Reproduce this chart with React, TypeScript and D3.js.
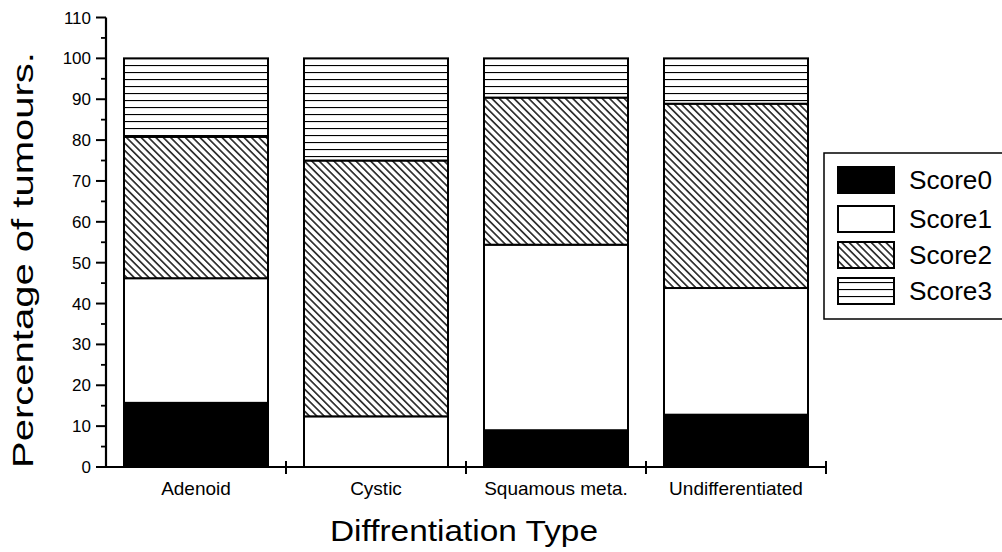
import React from "react";
import * as d3 from "d3";

const categories = ["Adenoid", "Cystic", "Squamous meta.", "Undifferentiated"];
const seriesNames = ["Score0", "Score1", "Score2", "Score3"];
const score0 = [15.7, 0, 9.0, 12.8];
const score1 = [30.5, 12.4, 45.4, 31.0];
const score2 = [34.6, 62.6, 36.0, 45.1];
const score3 = [19.2, 25.0, 9.6, 11.1];
const yTicks = [0, 10, 20, 30, 40, 50, 60, 70, 80, 90, 100, 110];
const yMinorTicks = [5, 15, 25, 35, 45, 55, 65, 75, 85, 95, 105];

const FONT = "Liberation Sans, Arial, Helvetica, sans-serif";

export default function App() {
  const W = 1002, H = 552;
  const x = d3.scaleBand<string>().domain(categories).range([106, 826]).paddingInner(0.2).paddingOuter(0.1);
  const y = d3.scaleLinear().domain([0, 110]).range([467, 17.5]);

  const table = categories.map((c, i) => ({
    cat: c,
    Score0: score0[i],
    Score1: score1[i],
    Score2: score2[i],
    Score3: score3[i],
  }));
  const stacked = d3.stack<any>().keys(seriesNames)(table);
  const fills: Record<string, string> = {
    Score0: "#000",
    Score1: "#fff",
    Score2: "url(#diag)",
    Score3: "url(#horiz)",
  };
  const boundaries = categories.slice(1).map((c) => x(c)! - (x.step() * x.paddingInner()) / 2).concat([826]);

  return (
    <svg width={W} height={H} style={{ position: "absolute", left: 0, top: 0, background: "#fff" }}>
      <defs>
        <pattern id="diag" patternUnits="userSpaceOnUse" width={5.2} height={5.2} patternTransform="rotate(45)">
          <rect width={5.2} height={5.2} fill="#fff" />
          <line x1={-1} y1={2.6} x2={7} y2={2.6} stroke="#000" strokeWidth={1.4} />
        </pattern>
        <pattern id="horiz" patternUnits="userSpaceOnUse" width={10} height={7} y={Math.round(y(100))}>
          <rect width={10} height={7} fill="#fff" />
          <line x1={-1} y1={0.5} x2={11} y2={0.5} stroke="#000" strokeWidth={1.2} />
        </pattern>
      </defs>
      <rect width={W} height={H} fill="#fff" />
      {stacked.map((s) =>
        s.map((d, i) => {
          const h = y(d[0]) - y(d[1]);
          if (h <= 0) return null;
          return (
            <rect
              key={s.key + i}
              x={x(categories[i])}
              y={y(d[1])}
              width={x.bandwidth()}
              height={h}
              fill={fills[s.key]}
              stroke="#000"
              strokeWidth={2}
            />
          );
        })
      )}
      {/* Y axis */}
      <line x1={106} x2={106} y1={y(0)} y2={y(110)} stroke="#000" strokeWidth={2.2} />
      {yTicks.map((t) => (
        <g key={t}>
          <line x1={96} x2={106} y1={y(t)} y2={y(t)} stroke="#000" strokeWidth={2} />
          <text x={91} y={y(t) + 6} textAnchor="end" fontFamily={FONT} fontSize={17} fill="#000">
            {t}
          </text>
        </g>
      ))}
      {yMinorTicks.map((t) => (
        <line key={t} x1={101} x2={106} y1={y(t)} y2={y(t)} stroke="#000" strokeWidth={1.8} />
      ))}
      {/* X axis */}
      <line x1={106} x2={826} y1={y(0)} y2={y(0)} stroke="#000" strokeWidth={2.2} />
      {boundaries.map((b, i) => (
        <line key={i} x1={b} x2={b} y1={461} y2={474} stroke="#000" strokeWidth={2} />
      ))}
      {categories.map((c) => (
        <text key={c} x={x(c)! + x.bandwidth() / 2} y={495} textAnchor="middle" fontFamily={FONT} fontSize={19} fill="#000">
          {c}
        </text>
      ))}
      <text x={464} y={541} textAnchor="middle" fontFamily={FONT} fontSize={30} fill="#000" textLength={268} lengthAdjust="spacingAndGlyphs">
        Diffrentiation Type
      </text>
      <text
        transform="translate(33,260) rotate(-90)"
        textAnchor="middle"
        fontFamily={FONT}
        fontSize={30}
        fill="#000"
        textLength={416}
        lengthAdjust="spacingAndGlyphs"
      >
        Percentage of tumours.
      </text>
      {/* Legend */}
      <rect x={824} y={153} width={190} height={166} fill="#fff" stroke="#000" strokeWidth={1.5} />
      {seriesNames.map((s, i) => {
        const ys = [167, 206, 242, 278][i];
        return (
          <g key={s}>
            <rect x={838} y={ys} width={56} height={26} fill={fills[s]} stroke="#000" strokeWidth={2} />
            <text x={909} y={ys + 22} fontFamily={FONT} fontSize={26} fill="#000" textLength={83} lengthAdjust="spacingAndGlyphs">
              {s}
            </text>
          </g>
        );
      })}
    </svg>
  );
}
